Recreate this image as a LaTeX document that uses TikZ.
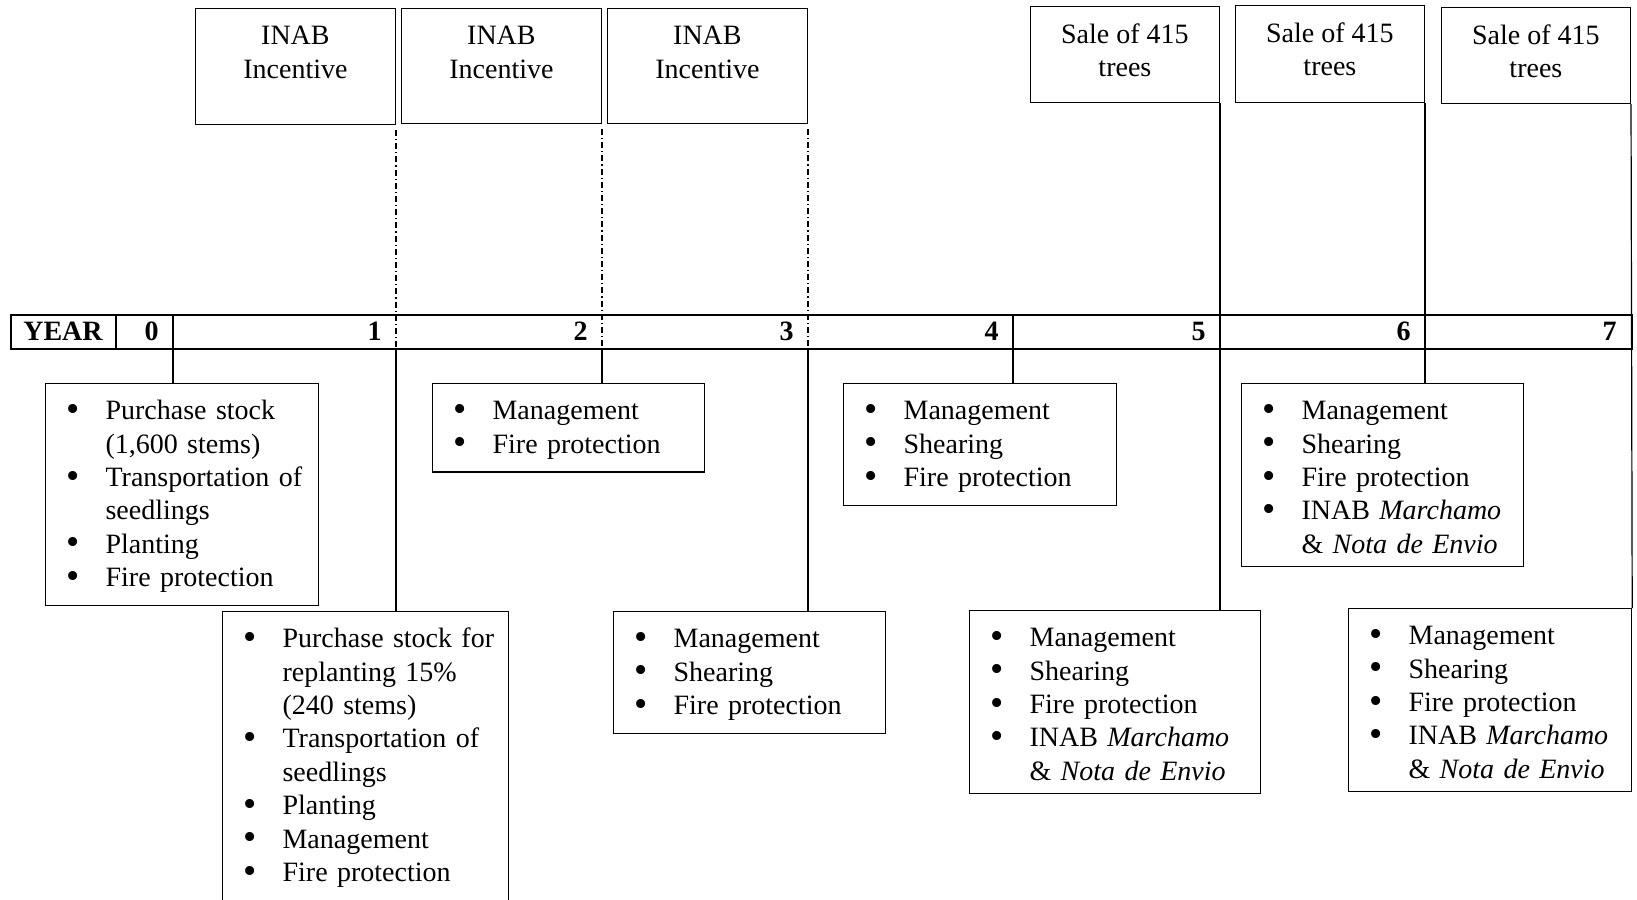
\documentclass[tikz,border=0pt]{standalone}
\usepackage{fontspec}
\setmainfont{Liberation Serif}
\usepackage{graphicx}
\usetikzlibrary{positioning}

% bullet line and continuation line inside an activity box
\newcommand{\bitem}[1]{\rule{0pt}{11.5pt}\makebox[19.5pt][l]{\raisebox{-0.8pt}{\scalebox{1.35}{\textbullet}}}\mbox{#1}}
\newcommand{\bcont}[1]{\hspace*{19.5pt}\mbox{#1}}

\begin{document}
\begin{tikzpicture}[x=0.5pt, y=-0.5pt,
  every node/.style={font=\fontsize{14}{16.7}\selectfont},
  frame/.style={draw, line width=0.6pt},
  actbox/.style={frame, anchor=north west, align=left, inner xsep=10.5pt, inner ysep=6.5pt},
  topbox/.style={frame, anchor=south east, inner sep=0pt},
  toptext/.style={align=center, inner sep=0pt},
  yearnum/.style={font=\fontsize{14}{16.7}\selectfont\bfseries, anchor=base east, inner sep=0pt},
  tline/.style={line width=0.6pt},
  incline/.style={line width=0.6pt, dash pattern=on 3pt off 1.5pt on 0.6pt off 1.5pt}]

\useasboundingbox (0,0) rectangle (1637,899);

% =====================================================
% Top boxes: incentives and sales
% =====================================================
\node[topbox, minimum width=100pt, minimum height=58pt] (inc1) at (396,125) {};
\node[topbox, minimum width=100pt, minimum height=57.5pt] (inc2) at (602,124) {};
\node[topbox, minimum width=100pt, minimum height=57.5pt] (inc3) at (808,124) {};
\node[toptext, below=9pt of inc1.north] (inc1t) {INAB\\Incentive};
\node[toptext, below=9pt of inc2.north] (inc2t) {INAB\\Incentive};
\node[toptext, below=9pt of inc3.north] (inc3t) {INAB\\Incentive};

\node[topbox, minimum width=94.5pt, minimum height=48pt] (sale5) at (1220,103) {};
\node[topbox, minimum width=94.5pt, minimum height=48.5pt] (sale6) at (1425,103) {};
\node[topbox, minimum width=94.5pt, minimum height=48pt] (sale7) at (1631,104) {};
\node[toptext, below=8.6pt of sale5.north] (sale5t) {Sale of 415\\trees};
\node[toptext, below=8.6pt of sale6.north] (sale6t) {Sale of 415\\trees};
\node[toptext, below=8.6pt of sale7.north] (sale7t) {Sale of 415\\trees};

% =====================================================
% Year bar
% =====================================================
\node[frame, line width=0.8pt, anchor=north west, minimum width=810.5pt, minimum height=17pt, inner sep=0pt] (bar) at (10,314) {};
\node[font=\fontsize{14}{16.7}\selectfont\bfseries, anchor=base, inner sep=0pt] (yearlbl) at (63,340) {YEAR};
\draw[line width=0.8pt] (116,314) -- (116,348);

\foreach \i/\x in {0/173,1/396,2/602,3/808,4/1013,5/1220,6/1425,7/1631}{
  \coordinate (y\i) at (\x,314);
  \node[yearnum] (num\i) at (\x-14,340) {\i};
}

% =====================================================
% Activity boxes
% =====================================================
\node[actbox, text width=115.5pt] (act0) at (45,383)
  {\bitem{Purchase stock}\\\bcont{(1,600 stems)}\\\bitem{Transportation of}\\\bcont{seedlings}\\\bitem{Planting}\\\bitem{Fire protection}};
\node[actbox, text width=122pt] (act1) at (222,611)
  {\bitem{Purchase stock for}\\\bcont{replanting 15\%}\\\bcont{(240 stems)}\\\bitem{Transportation of}\\\bcont{seedlings}\\\bitem{Planting}\\\bitem{Management}\\\bitem{Fire protection\rule[-8pt]{0pt}{8pt}}};
\node[actbox, text width=115pt] (act2) at (432,383)
  {\bitem{Management}\\\bitem{Fire protection}};
\node[actbox, text width=115pt] (act3) at (613,611)
  {\bitem{Management}\\\bitem{Shearing}\\\bitem{Fire protection}};
\node[actbox, text width=115.5pt] (act4) at (843,383)
  {\bitem{Management}\\\bitem{Shearing}\\\bitem{Fire protection}};
\node[actbox, text width=124.5pt] (act5) at (969,610)
  {\bitem{Management}\\\bitem{Shearing}\\\bitem{Fire protection}\\\bitem{INAB \textit{Marchamo}}\\\bcont{\& \textit{Nota de Envio}}};
\node[actbox, text width=120pt] (act6) at (1241,383)
  {\bitem{Management}\\\bitem{Shearing}\\\bitem{Fire protection}\\\bitem{INAB \textit{Marchamo}}\\\bcont{\& \textit{Nota de Envio}}};
\node[actbox, text width=120.5pt] (act7) at (1348,608)
  {\bitem{Management}\\\bitem{Shearing}\\\bitem{Fire protection}\\\bitem{INAB \textit{Marchamo}}\\\bcont{\& \textit{Nota de Envio}}};

% =====================================================
% Year lines
% =====================================================
% year 0
\draw[tline] (y0) -- (act0.north -| y0);
% years 1-3: dash-dot from the incentives, solid below the bar
\draw[incline] ([yshift=-2.5pt]inc1.south east) -- (y1 |- bar.south);
\draw[tline] (y1 |- bar.south) -- (act1.north -| y1);
\draw[incline] ([yshift=-2.5pt]inc2.south east) -- (y2 |- bar.south);
\draw[tline] (y2 |- bar.south) -- (act2.north -| y2);
\draw[incline] ([yshift=-2.5pt]inc3.south east) -- (y3 |- bar.south);
\draw[tline] (y3 |- bar.south) -- (act3.north -| y3);
% year 4
\draw[tline] (y4) -- (act4.north -| y4);
% years 5-7: from the sales
\draw[tline] (sale5.south east) -- (act5.north -| y5);
\draw[tline] (sale6.south east) -- (act6.north -| y6);
\draw[tline] (sale7.south east) -- (act7.north east);

\end{tikzpicture}
\end{document}
